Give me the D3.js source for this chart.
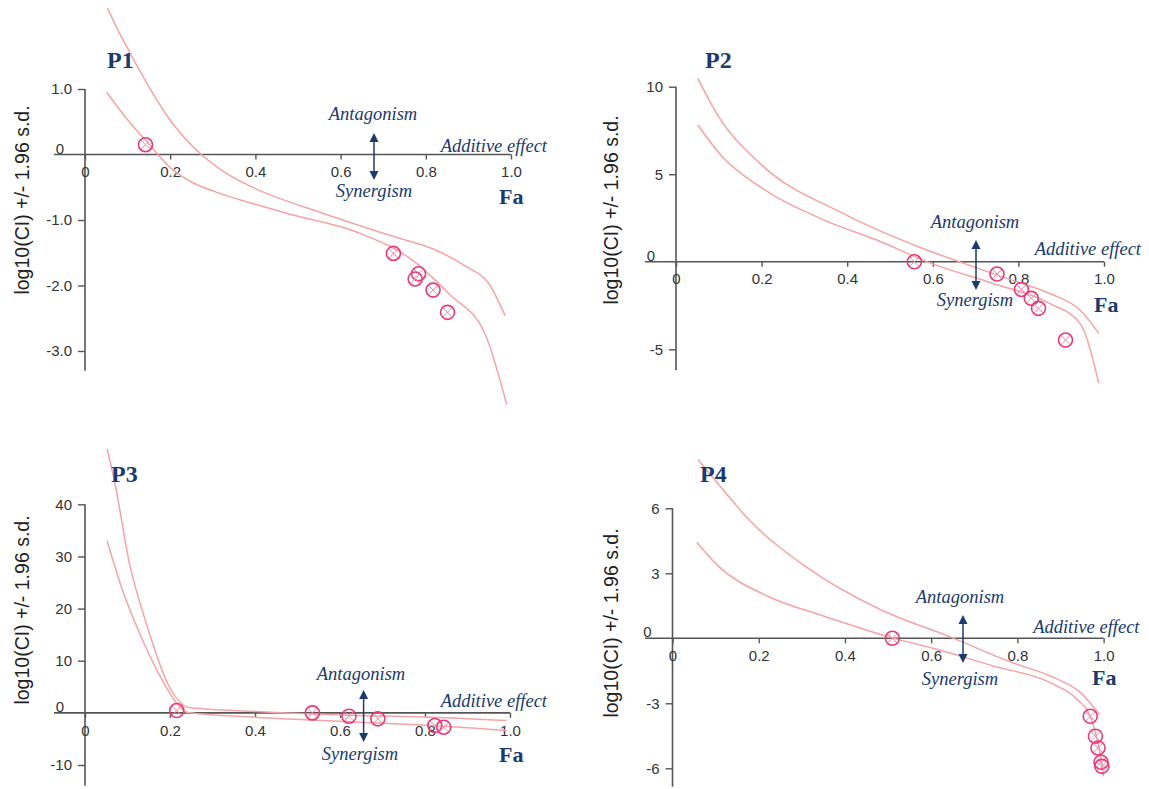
<!DOCTYPE html>
<html><head><meta charset="utf-8">
<script src="https://cdn.jsdelivr.net/npm/d3@7"></script>
<style>body{margin:0;background:#fff}</style>
</head><body><svg id="c" width="1149" height="789"></svg>
<script>
// ---------------- data ----------------
const xTickValues = [0, 0.2, 0.4, 0.6, 0.8, 1.0];
const xTickLabels = ["0", "0.2", "0.4", "0.6", "0.8", "1.0"];

// P1
const p1YTicks = [1, 0, -1, -2, -3];
const p1YLabels = ["1.0", "0", "-1.0", "-2.0", "-3.0"];
const p1UpperFa = [0.053, 0.075, 0.095, 0.137, 0.197, 0.273, 0.33, 0.39, 0.56, 0.728, 0.82, 0.897, 0.948, 0.986];
const p1UpperCI = [2.23, 1.93, 1.68, 1.18, 0.55, 0.0, -0.28, -0.49, -0.90, -1.26, -1.45, -1.72, -1.97, -2.46];
const p1LowerFa = [0.051, 0.095, 0.154, 0.2, 0.25, 0.306, 0.4, 0.475, 0.644, 0.77, 0.855, 0.939, 0.99];
const p1LowerCI = [0.95, 0.57, 0.13, -0.2, -0.42, -0.57, -0.76, -0.90, -1.20, -1.62, -2.13, -2.74, -3.82];
const p1PointFa = [0.142, 0.724, 0.783, 0.775, 0.817, 0.851];
const p1PointCI = [0.15, -1.51, -1.82, -1.90, -2.07, -2.41];

// P2
const p2YTicks = [10, 5, 0, -5];
const p2YLabels = ["10", "5", "0", "-5"];
const p2UpperFa = [0.051, 0.0995, 0.196, 0.39, 0.566, 0.662, 0.785, 0.873, 0.944, 0.988];
const p2UpperCI = [10.48, 8.29, 5.62, 2.76, 0.86, 0.0, -1.05, -1.81, -2.76, -4.09];
const p2LowerFa = [0.051, 0.108, 0.196, 0.346, 0.469, 0.596, 0.741, 0.873, 0.944, 0.988];
const p2LowerCI = [7.81, 6.0, 4.29, 2.38, 1.24, -0.09, -1.24, -2.38, -3.52, -6.95];
const p2PointFa = [0.557, 0.75, 0.807, 0.83, 0.847, 0.91];
const p2PointCI = [0.0, -0.70, -1.58, -2.09, -2.66, -4.47];

// P3
const p3YTicks = [40, 30, 20, 10, 0, -10];
const p3YLabels = ["40", "30", "20", "10", "0", "-10"];
const p3UpperFa = [0.052, 0.070, 0.104, 0.146, 0.197, 0.248, 0.402, 0.645, 0.814, 0.992];
const p3UpperCI = [50.6, 44.2, 28.9, 16.7, 5.2, 0.96, 0.26, -0.51, -0.83, -1.47];
const p3LowerFa = [0.052, 0.087, 0.138, 0.18, 0.214, 0.239, 0.402, 0.645, 0.814, 0.992];
const p3LowerCI = [33.0, 23.8, 13.5, 6.5, 2.0, 0.13, -0.83, -1.79, -2.43, -3.39];
const p3PointFa = [0.216, 0.535, 0.621, 0.689, 0.823, 0.844];
const p3PointCI = [0.45, 0.0, -0.64, -1.15, -2.43, -2.75];

// P4
const p4YTicks = [6, 3, 0, -3, -6];
const p4YLabels = ["6", "3", "0", "-3", "-6"];
const p4UpperFa = [0.059, 0.098, 0.177, 0.308, 0.483, 0.641, 0.79, 0.877, 0.947, 0.991];
const p4UpperCI = [8.25, 7.32, 5.48, 3.32, 1.32, 0.09, -1.14, -1.75, -2.52, -3.52];
const p4LowerFa = [0.056, 0.107, 0.221, 0.352, 0.51, 0.615, 0.746, 0.877, 0.939, 0.969, 0.987, 1.0];
const p4LowerCI = [4.43, 3.32, 1.94, 1.02, 0.02, -0.52, -1.29, -2.06, -2.83, -3.6, -4.83, -6.37];
const p4PointFa = [0.51, 0.969, 0.981, 0.987, 0.994, 0.996];
const p4PointCI = [0.0, -3.6, -4.52, -5.06, -5.72, -5.91];

const panelNames = ["P1", "P2", "P3", "P4"];
const yTitle = "log10(CI) +/- 1.96 s.d.";

// ---------------- layout ----------------
const panels = [
  {name: panelNames[0], yTicks: p1YTicks, yLabels: p1YLabels,
   upper: d3.zip(p1UpperFa, p1UpperCI), lower: d3.zip(p1LowerFa, p1LowerCI), pts: d3.zip(p1PointFa, p1PointCI),
   xr: [85, 511], yd: [-3, 1], yr: [351, 89], yBottom: -3.3, xStart: 54,
   title: [21.5, 200], label: [107, 68], antag: [373, 120], arrow: [374, 133, 180], syn: [374, 197], add: [547, 152], fa: [499, 204]},
  {name: panelNames[1], yTicks: p2YTicks, yLabels: p2YLabels,
   upper: d3.zip(p2UpperFa, p2UpperCI), lower: d3.zip(p2LowerFa, p2LowerCI), pts: d3.zip(p2PointFa, p2PointCI),
   xr: [676, 1104], yd: [-5, 10], yr: [349.3, 86.7], yBottom: -6.2, xStart: 645,
   title: [611, 210], label: [705, 68], antag: [975, 228], arrow: [976, 240, 290], syn: [975, 306], add: [1141, 255], fa: [1094, 312]},
  {name: panelNames[2], yTicks: p3YTicks, yLabels: p3YLabels,
   upper: d3.zip(p3UpperFa, p3UpperCI), lower: d3.zip(p3LowerFa, p3LowerCI), pts: d3.zip(p3PointFa, p3PointCI),
   xr: [85, 510], yd: [-10, 40], yr: [765, 504.3], yBottom: -14, xStart: 54,
   title: [21.5, 610], label: [111, 482], antag: [361, 680], arrow: [363.6, 690, 742], syn: [360, 760], add: [547, 707], fa: [499, 762]},
  {name: panelNames[3], yTicks: p4YTicks, yLabels: p4YLabels,
   upper: d3.zip(p4UpperFa, p4UpperCI), lower: d3.zip(p4LowerFa, p4LowerCI), pts: d3.zip(p4PointFa, p4PointCI),
   xr: [672.5, 1103.6], yd: [-6, 6], yr: [768.3, 508.3], yBottom: -6.85, xStart: 645,
   title: [611, 623], label: [700, 482], antag: [960, 603], arrow: [963, 615, 663], syn: [960, 685], add: [1139.5, 633], fa: [1092, 685]}
];

const svg = d3.select("#c");
svg.append("rect").attr("width", 1149).attr("height", 789).attr("fill", "#fff");

const axisColor = "#555";
const curveColor = "#f4a4a4";
const markColor = "#e8397a";
const navy = "#1b3a6e";
const sans = "'Liberation Sans', Arial, sans-serif";
const serif = "'Liberation Serif', 'Times New Roman', serif";

panels.forEach(p => {
  const g = svg.append("g");
  const x = d3.scaleLinear().domain([0, 1]).range(p.xr);
  const y = d3.scaleLinear().domain(p.yd).range(p.yr);
  const x0 = x(0), y0 = y(0);

  // y axis
  const yAx = g.append("g").attr("transform", `translate(${x0},0)`)
    .call(d3.axisLeft(y).tickValues(p.yTicks).tickSize(7).tickPadding(6)
      .tickFormat((d, i) => p.yLabels[i]));
  yAx.select(".domain").remove();
  yAx.selectAll("line").attr("stroke", axisColor).attr("stroke-width", 1.4);
  yAx.selectAll("text").attr("font-family", sans).attr("font-size", 15).attr("fill", "#333");
  yAx.selectAll(".tick").filter(d => d === 0).select("text")
    .attr("x", -21).attr("dy", "-0.1em");
  yAx.selectAll(".tick").filter(d => d === 0).select("line").remove();
  g.append("line").attr("x1", x0).attr("x2", x0)
    .attr("y1", y(p.yd[1])).attr("y2", y(p.yBottom))
    .attr("stroke", axisColor).attr("stroke-width", 1.6);

  // x axis
  const xAx = g.append("g").attr("transform", `translate(0,${y0})`)
    .call(d3.axisBottom(x).tickValues(xTickValues).tickSize(5).tickPadding(7)
      .tickFormat((d, i) => xTickLabels[i]));
  xAx.select(".domain").remove();
  xAx.selectAll("line").attr("stroke", axisColor).attr("stroke-width", 1.4);
  xAx.selectAll("text").attr("font-family", sans).attr("font-size", 15).attr("fill", "#333");
  g.append("line").attr("x1", p.xStart).attr("x2", x(1))
    .attr("y1", y0).attr("y2", y0)
    .attr("stroke", axisColor).attr("stroke-width", 1.6);

  // curves
  const line = d3.line().x(d => x(d[0])).y(d => y(d[1])).curve(d3.curveMonotoneX);
  [p.upper, p.lower].forEach(c => {
    g.append("path").attr("d", line(c)).attr("fill", "none")
      .attr("stroke", curveColor).attr("stroke-width", 1.5);
  });

  // points
  const r = 7, k = r * 0.7;
  p.pts.forEach(d => {
    const cx = x(d[0]), cy = y(d[1]);
    g.append("line").attr("x1", cx - k).attr("y1", cy - k).attr("x2", cx + k).attr("y2", cy + k)
      .attr("stroke", "#f08aa8").attr("stroke-width", 1);
    g.append("line").attr("x1", cx - k).attr("y1", cy + k).attr("x2", cx + k).attr("y2", cy - k)
      .attr("stroke", "#f08aa8").attr("stroke-width", 1);
    g.append("circle").attr("cx", cx).attr("cy", cy).attr("r", r)
      .attr("fill", "none").attr("stroke", markColor).attr("stroke-width", 1.6);
  });

  // y axis title
  g.append("text").attr("transform", `translate(${p.title[0]},${p.title[1]}) rotate(-90)`)
    .attr("text-anchor", "middle").attr("dominant-baseline", "central")
    .attr("font-family", sans).attr("font-size", 19.5).attr("fill", "#222")
    .text(yTitle);

  // panel label
  g.append("text").attr("x", p.label[0]).attr("y", p.label[1])
    .attr("font-family", serif).attr("font-weight", "bold").attr("font-size", 24)
    .attr("fill", navy).text(p.name);

  // annotations
  const it = (t, xx, yy, anchor) => g.append("text").attr("x", xx).attr("y", yy)
    .attr("text-anchor", anchor).attr("font-family", serif).attr("font-style", "italic")
    .attr("font-size", 18.5).attr("fill", navy).text(t);
  it("Antagonism", p.antag[0], p.antag[1], "middle");
  it("Synergism", p.syn[0], p.syn[1], "middle");
  it("Additive effect", p.add[0], p.add[1], "end");
  g.append("text").attr("x", p.fa[0]).attr("y", p.fa[1])
    .attr("font-family", serif).attr("font-weight", "bold").attr("font-size", 22)
    .attr("fill", navy).text("Fa");

  // double arrow
  const [ax, ay1, ay2] = p.arrow;
  g.append("line").attr("x1", ax).attr("x2", ax).attr("y1", ay1 + 6).attr("y2", ay2 - 6)
    .attr("stroke", navy).attr("stroke-width", 1.5);
  g.append("path").attr("d", `M${ax},${ay1} L${ax - 4.5},${ay1 + 9} L${ax + 4.5},${ay1 + 9} Z`).attr("fill", navy);
  g.append("path").attr("d", `M${ax},${ay2} L${ax - 4.5},${ay2 - 9} L${ax + 4.5},${ay2 - 9} Z`).attr("fill", navy);
});
</script></body></html>
